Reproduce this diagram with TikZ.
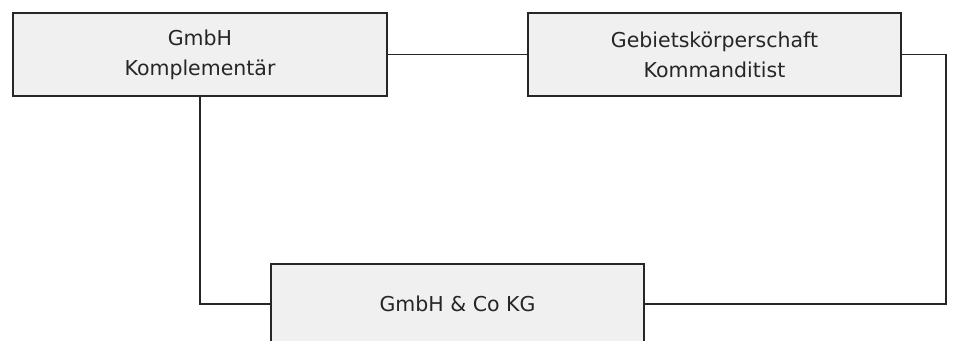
\documentclass[tikz,border=0pt]{standalone}
\usepackage{fontspec}
\setmainfont{DejaVu Sans}
\begin{document}
\begin{tikzpicture}[x=1pt,y=-1pt,
  entity/.style={draw=black!85, line width=1.7pt, fill=black!6, inner sep=0pt,
    align=center, text=black!85, font=\fontsize{20.5}{30}\selectfont},
  link/.style={draw=black!85, line width=1.6pt}]
  \useasboundingbox (0,0) rectangle (955,340);
  \clip (0,0) rectangle (955,340);
  % partner boxes
  \node[entity, minimum width=374pt, minimum height=83pt] (gmbh) at (200,54.5)
    {GmbH\\Komplementär};
  \node[entity, minimum width=373pt, minimum height=83pt] (gk) at (714.5,54.5)
    {Gebietskörperschaft\\Kommanditist};
  % the resulting company
  \node[entity, minimum width=373pt, minimum height=80pt] (kg) at (457.5,304)
    {GmbH \& Co KG};
  \coordinate (rturn) at (946,54.5);
  % connectors
  \draw[link] (gmbh.east) -- (gk.west);
  \draw[link] (gmbh.south) |- (kg.west);
  \draw[link] (gk.east) -- (rturn) |- (kg.east);
\end{tikzpicture}
\end{document}
